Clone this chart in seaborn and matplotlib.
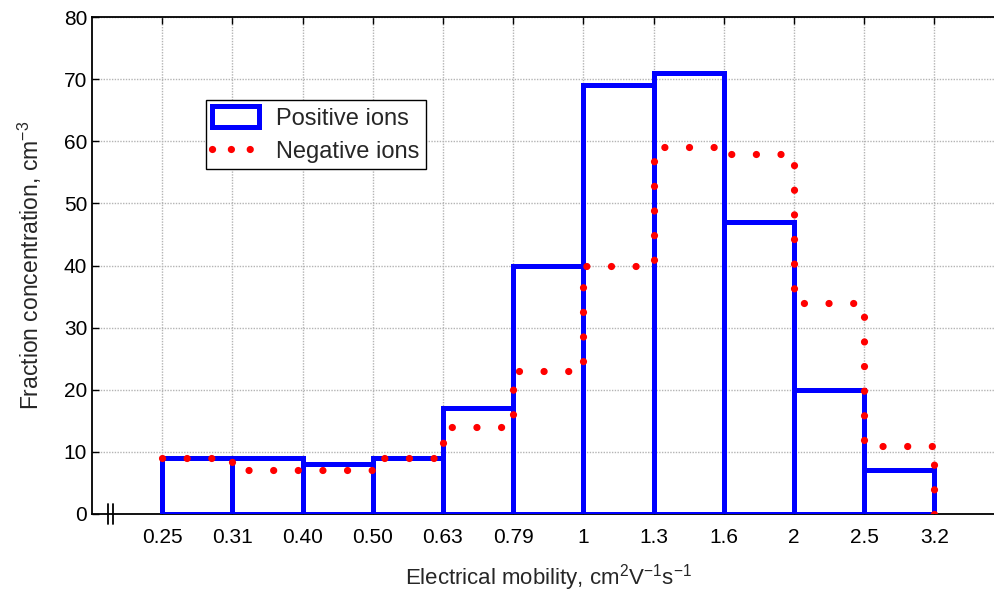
import numpy as np
import pandas as pd
import matplotlib
matplotlib.use("Agg")
import matplotlib.pyplot as plt
from matplotlib.patches import Patch
from matplotlib.lines import Line2D
import seaborn as sns

# bin edges (electrical mobility) and fraction concentrations
edge_labels = ["0.25", "0.31", "0.40", "0.50", "0.63", "0.79", "1", "1.3", "1.6", "2", "2.5", "3.2"]
positive_ions = [9, 9, 8, 9, 17, 40, 69, 71, 47, 20, 7]
negative_ions = [9, 7, 7, 9, 14, 23, 40, 59, 58, 34, 11]
y_ticks = [0, 10, 20, 30, 40, 50, 60, 70, 80]

sns.set_style("white")
plt.rcParams['font.family'] = ['Liberation Sans', 'DejaVu Sans']
plt.rcParams['mathtext.fontset'] = 'custom'
plt.rcParams['mathtext.rm'] = 'Liberation Sans'
plt.rcParams['mathtext.it'] = 'Liberation Sans'

fig = plt.figure(figsize=(9.95, 5.98), dpi=100)
ax = fig.add_axes([0.0925, 0.1405, 0.917, 0.831])

edges = list(range(len(edge_labels)))
df = pd.DataFrame({"center": [e + 0.5 for e in edges[:-1]],
                   "pos": positive_ions, "neg": negative_ions})

dots = (0, (0.01, 3.4))

# positive ions: outlined bars
sns.histplot(data=df, x="center", weights="pos", bins=edges, fill=False,
             element="bars", color="#0000ff", linewidth=3.6, ax=ax, zorder=3)

# negative ions: dotted step line
sns.histplot(data=df, x="center", weights="neg", bins=edges, fill=False,
             element="step", color="#ff0000", linewidth=5.2,
             linestyle=dots, dash_capstyle="round", ax=ax, zorder=4)
# closing edge of the last step down to zero
ax.vlines(edges[-1], 0, negative_ions[-1], color="#ff0000", linewidth=5.2,
          linestyle=dots, capstyle="round", zorder=4)

ax.set_xlim(-1, 12)
ax.set_ylim(0, 80)
ax.set_xticks(edges)
ax.set_xticklabels(edge_labels)
ax.set_yticks(y_ticks)
ax.grid(True, color="#b4b4b4", linestyle=(0, (1, 1)), linewidth=1)
ax.set_axisbelow(True)
ax.tick_params(direction="in", length=5, width=1, labelsize=15, top=True,
               left=True, bottom=True, colors="black")
ax.tick_params(axis="x", pad=10)
for s in ["left", "bottom", "top"]:
    ax.spines[s].set_color("black")
    ax.spines[s].set_linewidth(1.3)
ax.spines["right"].set_visible(False)

ax.set_xlabel("Electrical mobility, cm$^{2}$V$^{-1}$s$^{-1}$", fontsize=16, labelpad=11)
ax.set_ylabel("Fraction concentration, cm$^{-3}$", fontsize=16.5, labelpad=14)

# axis break mark on the x axis
for xb in [0.0175, 0.0235]:
    ax.plot([xb, xb], [-0.02, 0.02], transform=ax.transAxes, color="black",
            linewidth=1.3, clip_on=False, zorder=6)

handles = [Patch(facecolor="white", edgecolor="#0000ff", linewidth=3.6),
           Line2D([0], [0], color="#ff0000", linewidth=5.2,
                  linestyle=(0, (0.01, 2.6)), dash_capstyle="round")]
leg = ax.legend(handles, ["Positive ions", "Negative ions"], loc="upper left",
                bbox_to_anchor=(0.1245, 0.8325), fontsize=17, frameon=True,
                fancybox=False, edgecolor="black", framealpha=1,
                handlelength=2.0, handleheight=1.0, borderpad=0.25,
                labelspacing=0.4, handletextpad=0.75, borderaxespad=0)
leg.get_frame().set_linewidth(1)

fig.savefig("out.png", dpi=100)
